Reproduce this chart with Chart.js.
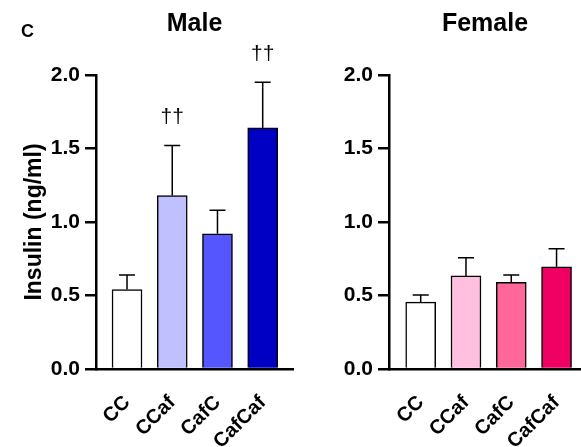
<!DOCTYPE html>
<html>
<head>
<meta charset="utf-8">
<script src="https://cdn.jsdelivr.net/npm/chart.js@4.4.1/dist/chart.umd.min.js"></script>
<style>
    body { margin: 0; background: #fff; }
    #wrap { position: relative; width: 581px; height: 447px; }
    canvas { position: absolute; top: 0; }
</style>
</head>
<body>
<div id="wrap">
    <canvas id="male" width="296" height="447" style="left:0"></canvas>
    <canvas id="female" width="285" height="447" style="left:296px"></canvas>
</div>
<script>
// Insulin, mean and SEM per group
const categories = ['CC', 'CCaf', 'CafC', 'CafCaf'];
const maleMean = [0.54, 1.18, 0.92, 1.64];
const maleSem = [0.10, 0.34, 0.16, 0.31];
const maleSig = ['', '\u2020\u2020', '', '\u2020\u2020'];
const femaleMean = [0.455, 0.633, 0.59, 0.695];
const femaleSem = [0.048, 0.124, 0.05, 0.123];
const femaleSig = ['', '', '', ''];
const yTicks = [0, 0.5, 1.0, 1.5, 2.0];

const maleColors = ['#ffffff', '#c0c0ff', '#5656ff', '#0000c4'];
const femaleColors = ['#ffffff', '#ffc0e0', '#ff6699', '#f00062'];

Chart.defaults.font.family = "'Liberation Sans', Arial, sans-serif";
Chart.defaults.color = '#000';

function errorPlugin(title, means, sems, sig, panel) {
    return {
        id: 'errs',
        afterDatasetsDraw: function(chart) {
            const ctx = chart.ctx;
            const ys = chart.scales.y;
            const area = chart.chartArea;
            ctx.save();
            ctx.strokeStyle = '#000';
            ctx.fillStyle = '#000';
            ctx.lineWidth = 1.5;
            chart.getDatasetMeta(0).data.forEach(function(bar, i) {
                const top = ys.getPixelForValue(means[i] + sems[i]);
                ctx.beginPath();
                ctx.moveTo(bar.x, bar.y);
                ctx.lineTo(bar.x, top);
                ctx.moveTo(bar.x - 8, top);
                ctx.lineTo(bar.x + 8, top);
                ctx.stroke();
                if (sig[i]) {
                    ctx.font = "21px 'Liberation Sans', Arial, sans-serif";
                    ctx.textAlign = 'center';
                    ctx.textBaseline = 'middle';
                    ctx.fillText(sig[i], bar.x, top - 28);
                }
            });
            // panel title
            ctx.font = "bold 25px 'Liberation Sans', Arial, sans-serif";
            ctx.textAlign = 'center';
            ctx.textBaseline = 'alphabetic';
            ctx.fillText(title, (area.left + area.right) / 2, 31);
            if (panel) {
                ctx.font = "bold 18px 'Liberation Sans', Arial, sans-serif";
                ctx.textAlign = 'left';
                ctx.fillText(panel, 21, 37);
            }
            ctx.restore();
        }
    };
}

function makeChart(id, title, means, sems, colors, sig, cfg) {
    return new Chart(document.getElementById(id), {
        type: 'bar',
        data: {
            datasets: [{
                data: means.map((m, i) => ({x: i, y: m})),
                backgroundColor: colors,
                borderColor: '#000',
                borderWidth: 1.5,
                barThickness: 30
            }]
        },
        options: {
            responsive: false,
            animation: false,
            events: [],
            layout: { padding: { top: 75, right: cfg.padRight, left: 0, bottom: 0 } },
            plugins: { legend: { display: false }, tooltip: { enabled: false } },
            scales: {
                x: {
                    type: 'linear',
                    offset: false,
                    min: cfg.xMin,
                    max: cfg.xMax,
                    afterBuildTicks: function(s) { s.ticks = categories.map((c, i) => ({value: i})); },
                    afterFit: function(s) { s.height = 78; s.paddingLeft = 0; s.paddingRight = 0; },
                    grid: { display: true, offset: false, drawOnChartArea: false, drawTicks: false },
                    border: { display: true, color: '#000', width: 2.5 },
                    ticks: {
                        callback: function(v) { return categories[v]; },
                        minRotation: 45,
                        maxRotation: 45,
                        padding: 22,
                        font: { size: 20, weight: 'bold' }
                    }
                },
                y: {
                    min: 0,
                    max: 2,
                    afterBuildTicks: function(s) { s.ticks = yTicks.map(v => ({value: v})); },
                    afterFit: function(s) { s.width = cfg.yWidth; },
                    grid: { display: true, drawOnChartArea: false, drawTicks: true, tickLength: 11, lineWidth: 2.5, color: '#000' },
                    border: { display: true, color: '#000', width: 2.5 },
                    ticks: {
                        callback: function(v) { return v.toFixed(1); },
                        padding: 5,
                        font: { size: 21, weight: 'bold' }
                    },
                    title: {
                        display: cfg.yTitle !== '',
                        text: cfg.yTitle,
                        padding: { top: 21, bottom: 0 },
                        font: { size: 23, weight: 'bold' }
                    }
                }
            }
        },
        plugins: [errorPlugin(title, means, sems, sig, cfg.panel)]
    });
}

makeChart('male', 'Male', maleMean, maleSem, maleColors, maleSig,
    { xMin: -0.686, xMax: 3.67, yWidth: 96, padRight: 3, yTitle: 'Insulin (ng/ml)', panel: 'C' });
makeChart('female', 'Female', femaleMean, femaleSem, femaleColors, femaleSig,
    { xMin: -0.70, xMax: 3.54, yWidth: 93, padRight: 0, yTitle: '', panel: '' });
</script>
</body>
</html>
